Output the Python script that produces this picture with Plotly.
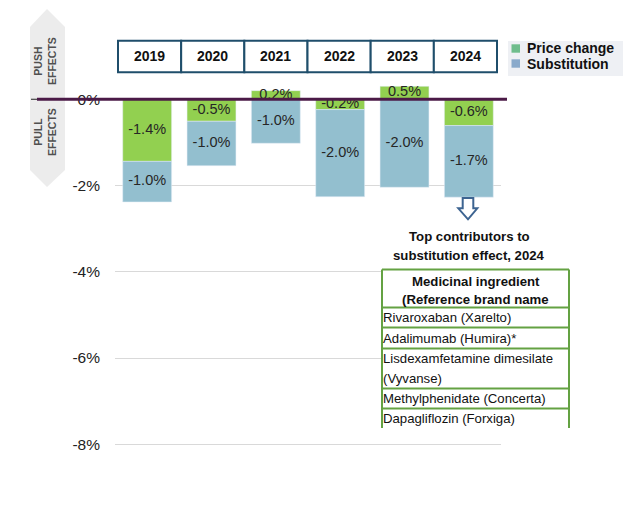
import plotly.graph_objects as go

# ---------------- data ----------------
years = ["2019", "2020", "2021", "2022", "2023", "2024"]
price_change = [-1.44, -0.51, 0.20, -0.24, 0.30, -0.61]
substitution = [-0.94, -1.03, -1.02, -2.02, -2.04, -1.66]
price_labels = ["-1.4%", "-0.5%", "0.2%", "-0.2%", "0.5%", "-0.6%"]
subst_labels = ["-1.0%", "-1.0%", "-1.0%", "-2.0%", "-2.0%", "-1.7%"]
y_ticks = [0, -2, -4, -6, -8]
y_ticktext = ["0%", "-2%", "-4%", "-6%", "-8%"]
legend_names = ["Price change", "Substitution"]
table_title = ["Top contributors to", "substitution effect, 2024"]
table_header = ["Medicinal ingredient", "(Reference brand name"]
table_rows = [
    ["Rivaroxaban (Xarelto)"],
    ["Adalimumab (Humira)*"],
    ["Lisdexamfetamine dimesilate", "(Vyvanse)"],
    ["Methylphenidate (Concerta)"],
    ["Dapagliflozin (Forxiga)"],
]

# ---------------- layout constants ----------------
W, H = 624, 520
ML, MR, MT, MB = 115, 123, 13, 11
PW, PH = W - ML - MR, H - MT - MB
FONT = "Liberation Sans, Arial, sans-serif"
GREEN = "#92d050"
BLUE = "#93bfcf"
LEG_GREEN = "#6fbd8c"
LEG_BLUE = "#8aaacb"


def px(x):
    return (x - ML) / PW


def py(y):
    return 1 - (y - MT) / PH


def note(x, y, text, size, xanchor="center", color="#111111", **kw):
    return dict(xref="paper", yref="paper", x=px(x), y=py(y), text=text, showarrow=False,
                xanchor=xanchor, yanchor="middle",
                font=dict(family=FONT, size=size, color=color), **kw)


fig = go.Figure()
fig.add_trace(go.Bar(x=years, y=price_change, marker_color=GREEN, name=legend_names[0],
                     showlegend=False, hoverinfo="skip"))
fig.add_trace(go.Bar(x=years, y=substitution, marker_color=BLUE, name=legend_names[1],
                     showlegend=False, hoverinfo="skip"))

# segment labels at centres of stacked segments
price_mid = [p / 2 for p in price_change]
subst_mid = [min(p, 0) + s / 2 for p, s in zip(price_change, substitution)]
fig.add_trace(go.Scatter(x=years, y=price_mid, mode="text", text=price_labels,
                         textfont=dict(family=FONT, size=14.5, color="#262626"),
                         showlegend=False, hoverinfo="skip"))
fig.add_trace(go.Scatter(x=years, y=subst_mid, mode="text", text=subst_labels,
                         textfont=dict(family=FONT, size=14.5, color="#262626"),
                         showlegend=False, hoverinfo="skip"))

shapes = []
annotations = []

# left push/pull arrow background
pts = [(47, 9), (65, 27), (65, 170), (47, 187), (30, 170), (30, 27)]
path = "M " + " L ".join(f"{px(a):.5f},{py(b):.5f}" for a, b in pts) + " Z"
shapes.append(dict(type="path", xref="paper", yref="paper", path=path,
                   fillcolor="#ececec", line=dict(width=0), layer="below"))
annotations.append(note(45, 61, "<b>PUSH<br>EFFECTS</b>", 10.5, color="#505050", textangle=-90))
annotations.append(note(45, 132, "<b>PULL<br>EFFECTS</b>", 10.5, color="#505050", textangle=-90))

# zero line
shapes.append(dict(type="line", xref="paper", yref="y", x0=px(37), x1=px(507), y0=0, y1=0,
                   line=dict(color="#4b1a47", width=3)))
shapes.append(dict(type="line", xref="paper", yref="y", x0=px(31), x1=px(37), y0=0, y1=0,
                   line=dict(color="#222222", width=1)))

# year boxes
bx0, bx1, by0, by1 = 118, 497, 40.7, 72.3
cw = (bx1 - bx0) / len(years)
for i, yr in enumerate(years):
    shapes.append(dict(type="rect", xref="paper", yref="paper",
                       x0=px(bx0 + i * cw), x1=px(bx0 + (i + 1) * cw), y0=py(by1), y1=py(by0),
                       line=dict(color="#1f4e6b", width=2), fillcolor="white"))
    annotations.append(note(bx0 + (i + 0.5) * cw, 56.5, f"<b>{yr}</b>", 14))

# custom legend
shapes.append(dict(type="rect", xref="paper", yref="paper", x0=px(508), x1=px(623), y0=py(76), y1=py(41),
                   fillcolor="#eef0f4", line=dict(width=0), layer="below"))
for k, (col, yc) in enumerate([(LEG_GREEN, 48.5), (LEG_BLUE, 63.5)]):
    shapes.append(dict(type="rect", xref="paper", yref="paper", x0=px(511.5), x1=px(520),
                       y0=py(yc + 4.2), y1=py(yc - 4.2), fillcolor=col, line=dict(width=0)))
    annotations.append(note(525, yc, f"<b>{legend_names[k]}</b>", 14, xanchor="left"))

# hollow down arrow
apts = [(462.7, 198), (473.3, 198), (473.3, 208.3), (477.3, 208.3), (468, 219.3),
        (458.3, 208.3), (462.7, 208.3)]
apath = "M " + " L ".join(f"{px(a):.5f},{py(b):.5f}" for a, b in apts) + " Z"
shapes.append(dict(type="path", xref="paper", yref="paper", path=apath,
                   fillcolor="white", line=dict(color="#3d6491", width=2)))

# table title
for t, yc in zip(table_title, [236.5, 255]):
    annotations.append(note(469, yc, f"<b>{t}</b>", 13.2))

# table
TG = "#64a243"
tx0, tx1, ty0, ty1 = 382, 569, 269.5, 428
hlines = [269.5, 307.5, 327.5, 348.5, 388.5, 408.5]
shapes.append(dict(type="rect", xref="paper", yref="paper", x0=px(tx0), x1=px(tx1), y0=py(ty1), y1=py(ty0),
                   fillcolor="white", line=dict(width=0)))
for hy in hlines:
    shapes.append(dict(type="line", xref="paper", yref="paper", x0=px(tx0), x1=px(tx1),
                       y0=py(hy), y1=py(hy), line=dict(color=TG, width=2)))
for vx in (tx0, tx1):
    shapes.append(dict(type="line", xref="paper", yref="paper", x0=px(vx), x1=px(vx),
                       y0=py(ty0), y1=py(ty1), line=dict(color=TG, width=2)))
for t, yc in zip(table_header, [281.5, 299]):
    annotations.append(note((tx0 + tx1) / 2, yc, f"<b>{t}</b>", 13.2))
row_bounds = hlines[1:] + [ty1]
for r, lines in enumerate(table_rows):
    top, bot = row_bounds[r], row_bounds[r + 1]
    lh = (bot - top) / len(lines)
    for j, line in enumerate(lines):
        annotations.append(note(tx0 - 1, top + lh * (j + 0.5), line, 13.2, xanchor="left"))

fig.update_layout(
    width=W, height=H,
    margin=dict(l=ML, r=MR, t=MT, b=MB),
    plot_bgcolor="white", paper_bgcolor="white",
    barmode="relative", bargap=0.24,
    showlegend=False,
    shapes=shapes, annotations=annotations,
    xaxis=dict(range=[-0.5, 5.5], showticklabels=False, showgrid=False, zeroline=False,
               fixedrange=True),
    yaxis=dict(range=[-9.5, 2], tickvals=y_ticks, ticktext=y_ticktext, showgrid=True,
               gridcolor="#d9d9d9", gridwidth=1, zeroline=False, ticks="",
               ticklabelstandoff=14,
               tickfont=dict(family=FONT, size=15.5, color="#222222")),
)

fig.write_html("out.html")
